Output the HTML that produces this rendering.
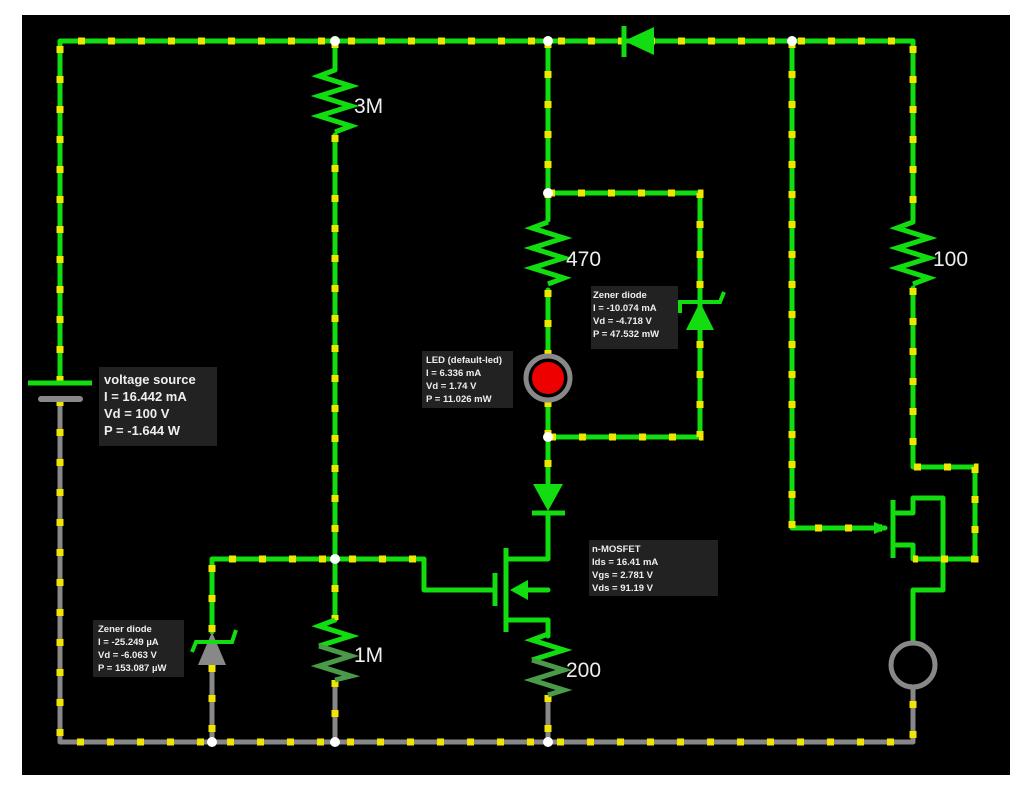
<!DOCTYPE html>
<html><head><meta charset="utf-8"><style>
html,body{margin:0;padding:0;background:#fff;width:1024px;height:802px;overflow:hidden}
svg{display:block}
.w{fill:none;stroke:#11dd11;stroke-width:5;stroke-linejoin:round;stroke-linecap:round}
.g{fill:none;stroke:#888;stroke-width:5;stroke-linejoin:round}
.d{fill:none;stroke:#f2e600;stroke-width:7;stroke-dasharray:7 23}
.lb{font-family:"Liberation Sans",sans-serif;fill:#eee}
.r{fill:none;stroke:#11dd11;stroke-width:5;stroke-linejoin:miter}
</style></head><body>
<svg width="1024" height="802" viewBox="0 0 1024 802">
<rect x="0" y="0" width="1024" height="802" fill="#fff"/>
<rect x="22" y="15" width="988" height="760" fill="#000"/>

<!-- green wires -->
<path class="w" d="M60 383 V41 H913 V222 M913 288 V467 H975 V559 H913 M913 545 H897 M913 545 V559"/>
<path class="w" d="M335 41 V70 M335 135 V620"/>
<path class="w" d="M212 632 V559 H424 V590 H494"/>
<path class="w" d="M548 41 V220 M548 290 V356 M548 400 V483 M548 513 V559 H506"/>
<path class="w" d="M548 193 H700 V437 H548"/>
<path class="w" d="M792 41 V528 H885"/>
<path class="w" d="M897 513 H913 V498 H943 V590 H913 V643"/>
<path class="w" d="M548 590 H515 M506 620 H548 V636"/>
<!-- gray wires -->
<path class="g" d="M60 399 V742 H913 V687"/>
<path class="g" d="M212 665 V742 M335 680 V742 M548 695 V742"/>

<!-- dots -->
<g class="d">
<path d="M60 383 V41 H913 V222"/>
<path d="M913 288 V467 H975 V559 H913"/>
<path d="M335 41 V70 M335 135 V620"/>
<path d="M212 632 V559 H424"/>
<path d="M548 41 V220 M548 290 V356 M548 400 V483"/>
<path d="M548 193 H700 V437 H548"/>
<path d="M792 41 V528 H885"/>
<path d="M60 399 V742 H913 V687"/>
<path d="M212 665 V742 M335 680 V742 M548 695 V742"/>
</g>

<!-- resistors -->
<g class="r">
<path d="M335 70 l-16 6 l32 10 l-32 10 l32 10 l-32 10 l32 10 l-16 6"/>
<path d="M548 222 l-16 6 l32 10 l-32 10 l32 10 l-32 10 l32 10 l-16 6"/>
<path d="M913 222 l-16 6 l32 10 l-32 10 l32 10 l-32 10 l32 10 l-16 6"/>
<path d="M335 620 l-16 6 l32 10 l-32 10" />
<path d="M548 634 l-16 6 l32 10 l-32 10"/>
</g>
<g fill="none" stroke="#4a9a4a" stroke-width="5">
<path d="M319 646 l32 10 l-32 10 l32 10 l-16 4"/>
<path d="M532 660 l32 10 l-32 10 l32 10 l-16 5"/>
</g>
<text class="lb" x="354" y="113" font-size="21">3M</text>
<text class="lb" x="566" y="266" font-size="21">470</text>
<text class="lb" x="933" y="266" font-size="21">100</text>
<text class="lb" x="354" y="662" font-size="21">1M</text>
<text class="lb" x="566" y="677" font-size="21">200</text>

<!-- battery -->
<line x1="28" y1="383" x2="92" y2="383" stroke="#11dd11" stroke-width="5"/>
<line x1="41" y1="399" x2="80" y2="399" stroke="#888" stroke-width="6" stroke-linecap="round"/>

<!-- top diode -->
<polygon points="624,41 654,27 654,55" fill="#11dd11"/>
<line x1="624" y1="26" x2="624" y2="57" stroke="#11dd11" stroke-width="5"/>

<!-- lower diode -->
<polygon points="548,511 533,484 563,484" fill="#11dd11"/>
<line x1="532" y1="513" x2="565" y2="513" stroke="#11dd11" stroke-width="5"/>

<!-- right zener -->
<polygon points="700,302 686,330 714,330" fill="#11dd11"/>
<path d="M680 313 V302 H720 l4 -10" fill="none" stroke="#11dd11" stroke-width="4"/>

<!-- left zener -->
<polygon points="212,632 198,665 226,665" fill="#888"/>
<path d="M192 652 l4 -10 H232 l4 -12" fill="none" stroke="#11dd11" stroke-width="4"/>

<!-- LED -->
<circle cx="548" cy="378" r="22" fill="#000" stroke="#888" stroke-width="5"/>
<circle cx="548" cy="378" r="16" fill="#e00"/>

<!-- MOSFET left -->
<line x1="495" y1="573" x2="495" y2="606" stroke="#11dd11" stroke-width="5"/>
<line x1="506" y1="548" x2="506" y2="632" stroke="#11dd11" stroke-width="5"/>
<polygon points="510,590 528,580 528,600" fill="#11dd11"/>

<!-- MOSFET right -->
<line x1="893" y1="500" x2="893" y2="558" stroke="#11dd11" stroke-width="5"/>
<polygon points="888,528 874,522 874,534" fill="#11dd11"/>

<!-- current source circle -->
<circle cx="913" cy="665" r="22" fill="none" stroke="#888" stroke-width="5"/>

<!-- nodes -->
<g fill="#fff">
<circle cx="335" cy="41" r="5"/><circle cx="548" cy="41" r="5"/><circle cx="792" cy="41" r="5"/>
<circle cx="548" cy="193" r="5"/><circle cx="548" cy="437" r="5"/><circle cx="335" cy="559" r="5"/>
<circle cx="212" cy="742" r="5"/><circle cx="335" cy="742" r="5"/><circle cx="548" cy="742" r="5"/>
</g>

<!-- labels -->
<g class="lb" font-weight="bold">
<rect x="99" y="367" width="118" height="79" fill="#222"/>
<text x="104" y="384" font-size="13">voltage source</text>
<text x="104" y="401" font-size="13">I = 16.442 mA</text>
<text x="104" y="418" font-size="13">Vd = 100 V</text>
<text x="104" y="435" font-size="13">P = -1.644 W</text>

<rect x="93" y="620" width="91" height="57" fill="#222"/>
<text x="98" y="632" font-size="9.5">Zener diode</text>
<text x="98" y="645" font-size="9.5">I = -25.249 µA</text>
<text x="98" y="658" font-size="9.5">Vd = -6.063 V</text>
<text x="98" y="671" font-size="9.5">P = 153.087 µW</text>

<rect x="422" y="351" width="91" height="57" fill="#222"/>
<text x="426" y="363" font-size="9.5">LED (default-led)</text>
<text x="426" y="376" font-size="9.5">I = 6.336 mA</text>
<text x="426" y="389" font-size="9.5">Vd = 1.74 V</text>
<text x="426" y="402" font-size="9.5">P = 11.026 mW</text>

<rect x="591" y="286" width="87" height="63" fill="#222"/>
<text x="593" y="298" font-size="9.5">Zener diode</text>
<text x="593" y="311" font-size="9.5">I = -10.074 mA</text>
<text x="593" y="324" font-size="9.5">Vd = -4.718 V</text>
<text x="593" y="337" font-size="9.5">P = 47.532 mW</text>

<rect x="589" y="540" width="129" height="56" fill="#222"/>
<text x="592" y="552" font-size="9.5">n-MOSFET</text>
<text x="592" y="565" font-size="9.5">Ids = 16.41 mA</text>
<text x="592" y="578" font-size="9.5">Vgs = 2.781 V</text>
<text x="592" y="591" font-size="9.5">Vds = 91.19 V</text>
</g>
</svg>
</body></html>
